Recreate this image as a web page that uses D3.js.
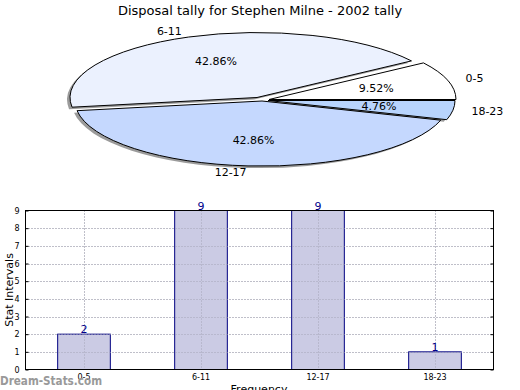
<!DOCTYPE html>
<html><head><meta charset="utf-8">
<script src="https://cdn.jsdelivr.net/npm/d3@7"></script>
<style>
html,body{margin:0;padding:0;background:#fff;}
svg{display:block;font-family:"DejaVu Sans",sans-serif;}
</style></head>
<body>
<svg id="c" width="520" height="390"></svg>
<script>
const title = "Disposal tally for Stephen Milne - 2002 tally";
const categories = ["0-5", "6-11", "12-17", "18-23"];
const values = [2, 9, 9, 1];
const sliceColors = ["#ffffff", "#ebf1fe", "#c5d8fe", "#b8d4fd"];
const explode = [[11, 0.5], [-1, -1.5], [4, 2], [10, 1.5]];
const yTicks = [0,1,2,3,4,5,6,7,8,9];

const svg = d3.select("#c");

// ---------- Pie ----------
const cx = 258, cy = 99, rx = 187, ry = 65;
const total = d3.sum(values);
const pie = d3.pie().sort(null).value(d => d)
  .startAngle(Math.PI/2).endAngle(Math.PI/2 - 2*Math.PI); // counterclockwise from east
const arcs = pie(values);
const arc = d3.arc().innerRadius(0).outerRadius(1);

svg.append("text").attr("x", 260).attr("y", 15).attr("text-anchor", "middle")
  .attr("font-size", 13).attr("fill", "#000").text(title);

const pg = svg.append("g");
// shadows
arcs.forEach((a, i) => {
  pg.append("path")
    .attr("d", arc(a))
    .attr("transform", `translate(${cx + explode[i][0] - 3},${cy + explode[i][1] + 2}) scale(${rx},${ry})`)
    .attr("fill", "#8a8a8a").attr("opacity", 0.85);
});
arcs.forEach((a, i) => {
  pg.append("path")
    .attr("d", arc(a))
    .attr("transform", `translate(${cx + explode[i][0]},${cy + explode[i][1]}) scale(${rx},${ry})`)
    .attr("fill", sliceColors[i]).attr("stroke", "#000").attr("stroke-width", 1)
    .attr("vector-effect", "non-scaling-stroke");
});
// labels
arcs.forEach((a, i) => {
  const t0 = Math.PI/2 - a.startAngle, t1 = Math.PI/2 - a.endAngle;
  const mid = (t0 + t1) / 2;
  const ox = cx + explode[i][0], oy = cy + explode[i][1];
  const c = Math.cos(mid), s = Math.sin(mid);
  const lx = ox + 1.1 * rx * c, ly = oy - 1.1 * ry * s;
  pg.append("text").attr("x", lx).attr("y", ly).attr("dy", "0.35em")
    .attr("text-anchor", c < 0 ? "end" : "start").attr("font-size", 11)
    .text(categories[i]);
  const px = ox + 0.6 * rx * c, py = oy - 0.6 * ry * s;
  pg.append("text").attr("x", px).attr("y", py).attr("dy", "0.35em")
    .attr("text-anchor", "middle").attr("font-size", 11)
    .text((values[i] / total * 100).toFixed(2) + "%");
});

// ---------- Bar chart ----------
const L = 25.5, R = 493.5, T = 210.5, B = 369.5;
const x = d3.scaleBand().domain(categories).range([L, R]).paddingInner(0.55).paddingOuter(0.275);
const y = d3.scaleLinear().domain([0, 9]).range([B, T]);
const bg = svg.append("g");

function grid(cls, color) {
  bg.selectAll("line." + cls + "h").data(yTicks.slice(1, -1)).join("line").attr("class", cls + "h")
    .attr("x1", L).attr("x2", R).attr("y1", d => Math.round(y(d)) + 0.5).attr("y2", d => Math.round(y(d)) + 0.5)
    .attr("stroke", color).attr("stroke-dasharray", "1,2");
  bg.selectAll("line." + cls + "v").data(categories).join("line").attr("class", cls + "v")
    .attr("x1", d => Math.round(x(d) + x.bandwidth()/2) + 0.5).attr("x2", d => Math.round(x(d) + x.bandwidth()/2) + 0.5)
    .attr("y1", T).attr("y2", B)
    .attr("stroke", color).attr("stroke-dasharray", "1,2");
}
grid("g1", "#b4b4b4");

// bars
bg.selectAll("rect.bar").data(values).join("rect").attr("class", "bar")
  .attr("x", (d, i) => x(categories[i])).attr("width", x.bandwidth())
  .attr("y", d => y(d)).attr("height", d => B - y(d))
  .attr("fill", "#cbcbe4").attr("stroke", "#000080").attr("stroke-width", 1);
grid("g2", "#a4a4b8");

// value labels
bg.selectAll("text.val").data(values).join("text").attr("class", "val")
  .attr("x", (d, i) => x(categories[i]) + x.bandwidth()/2).attr("y", d => y(d) - 1)
  .attr("text-anchor", "middle").attr("font-size", 11).attr("fill", "#00008b")
  .text(d => d);

// frame
bg.append("rect").attr("x", L).attr("y", T).attr("width", R - L).attr("height", B - T)
  .attr("fill", "none").attr("stroke", "#000").attr("stroke-width", 1);

// axes
const yAxis = d3.axisLeft(y).tickValues(yTicks).tickSize(3).tickFormat(d3.format("d"));
const ga = bg.append("g").attr("transform", `translate(${L},0)`).call(yAxis);
ga.select(".domain").remove();
ga.selectAll("text").attr("font-size", 8).attr("font-family", "DejaVu Sans").attr("fill", "#000");
ga.selectAll("line").attr("x2", 3).attr("stroke", "#000");
const gr = bg.append("g").attr("transform", `translate(${R},0)`).call(d3.axisRight(y).tickValues(yTicks).tickSize(0).tickFormat(""));
gr.select(".domain").remove();
gr.selectAll(".tick").append("line").attr("x1", -3).attr("x2", 0).attr("stroke", "#000");

const xAxis = d3.axisBottom(x).tickSize(0).tickPadding(5);
const gx = bg.append("g").attr("transform", `translate(0,${B})`).call(xAxis);
gx.select(".domain").remove();
gx.selectAll("text").attr("font-size", 8).attr("font-family", "DejaVu Sans").attr("fill", "#000");

svg.append("text").attr("transform", `translate(13,${(T + B)/2}) rotate(-90)`)
  .attr("text-anchor", "middle").attr("font-size", 11).text("Stat Intervals");
svg.append("text").attr("x", 259).attr("y", 393).attr("text-anchor", "middle")
  .attr("font-size", 11).text("Frequency");

// watermark
svg.append("text").attr("x", 0).attr("y", 385).attr("font-size", 11.5).attr("font-weight", "bold")
  .attr("textLength", 102).attr("lengthAdjust", "spacingAndGlyphs")
  .attr("fill", "#999").text("Dream-Stats.com");
</script>
</body></html>
